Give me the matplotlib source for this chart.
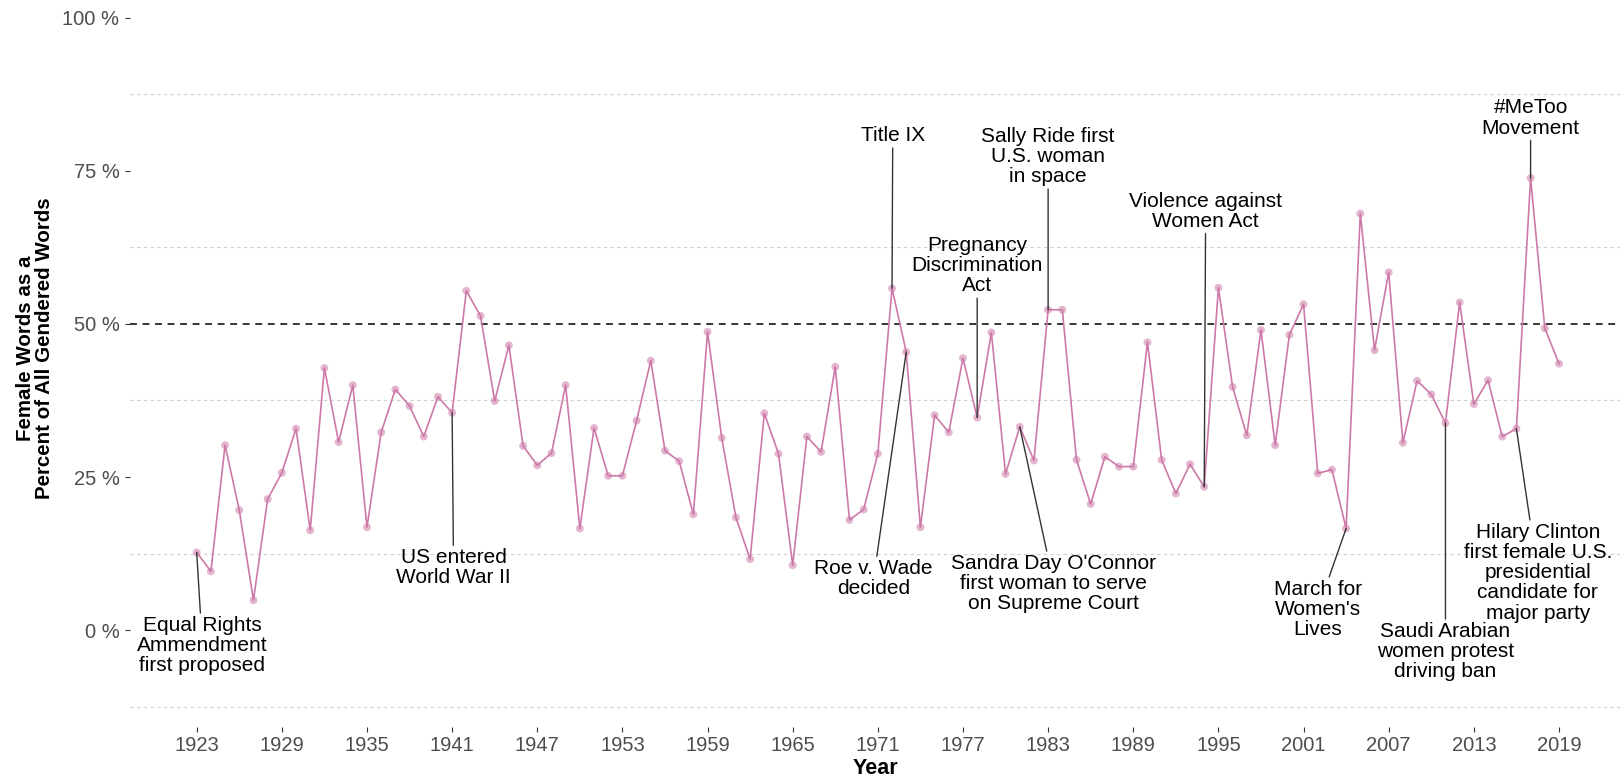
import numpy as np
import matplotlib.pyplot as plt
import matplotlib
matplotlib.rcParams["font.family"] = ["Liberation Sans", "DejaVu Sans"]

years = list(range(1923, 2020))
pct_female = [12.7, 9.6, 30.2, 19.6, 4.9, 21.4, 25.7, 32.9, 16.3, 42.8,
              30.7, 40.0, 16.8, 32.3, 39.3, 36.6, 31.6, 38.1, 35.5, 55.4,
              51.3, 37.4, 46.5, 30.1, 26.9, 28.9, 40.0, 16.6, 33.0, 25.2,
              25.2, 34.2, 44.0, 29.3, 27.6, 18.9, 48.7, 31.4, 18.4, 11.6,
              35.4, 28.8, 10.6, 31.6, 29.1, 43.0, 18.0, 19.7, 28.8, 55.8,
              45.4, 16.8, 35.1, 32.3, 44.4, 34.7, 48.6, 25.5, 33.2, 27.7,
              52.3, 52.3, 27.8, 20.6, 28.3, 26.7, 26.7, 47.0, 27.8, 22.3,
              27.1, 23.4, 55.9, 39.7, 31.8, 49.0, 30.2, 48.2, 53.2, 25.6,
              26.2, 16.6, 68.0, 45.7, 58.4, 30.6, 40.7, 38.5, 33.8, 53.5,
              36.9, 40.8, 31.6, 32.9, 73.8, 49.3, 43.5]

event_years = [1923, 1941, 1972, 1973, 1978, 1981, 1983, 1994, 2004, 2011, 2016, 2017]
event_labels = ["Equal Rights\nAmmendment\nfirst proposed",
                "US entered\nWorld War II",
                "Title IX",
                "Roe v. Wade\ndecided",
                "Pregnancy\nDiscrimination\nAct",
                "Sandra Day O'Connor\nfirst woman to serve\non Supreme Court",
                "Sally Ride first\nU.S. woman\nin space",
                "Violence against\nWomen Act",
                "March for\nWomen's\nLives",
                "Saudi Arabian\nwomen protest\ndriving ban",
                "Hilary Clinton\nfirst female U.S.\npresidential\ncandidate for\nmajor party",
                "#MeToo\nMovement"]
label_x = [1923.4, 1941.1, 1972.05, 1970.7, 1978.0, 1983.4, 1983.0, 1994.1, 2002.0, 2011.0, 2017.5, 2017.0]
label_y = [-2.5, 10.2, 80.7, 8.4, 59.5, 7.6, 77.3, 68.4, 3.4, -3.5, 9.4, 83.6]

col = "#CC79A7"

fig = plt.figure(figsize=(16.23, 7.80), dpi=100)
ax = fig.add_axes([130/1623, 1-727/780, 1490/1623, 715/780])

# light dashed grid between the labelled ticks
for g in [-12.5, 12.5, 37.5, 62.5, 87.5]:
    ax.axhline(g, color="#d0d0d0", lw=0.8, ls=(0, (3, 3)), zorder=0)
ax.axhline(50, color="black", lw=1.1, ls=(0, (4.5, 3.7)), zorder=1)

ax.scatter(years, pct_female, s=32, color=col, alpha=0.55, edgecolors="none", zorder=2)
ax.plot(years, pct_female, color=col, lw=1.2, zorder=3)

for yr, lab, lx, ly in zip(event_years, event_labels, label_x, label_y):
    py = pct_female[years.index(yr)]
    ax.annotate(lab, xy=(yr, py), xytext=(lx, ly), ha="center", va="center",
                multialignment="center", fontsize=15, linespacing=1.08, color="black",
                arrowprops=dict(arrowstyle="-", color="#333333", lw=1.0,
                                shrinkA=0, shrinkB=0), zorder=4)

ax.set_xlim(1918.3, 2023.3)
ax.set_ylim(-15.8, 100.9)
ax.set_xticks(range(1923, 2020, 6))
ax.set_yticks([0, 25, 50, 75, 100])
ax.set_yticklabels(["0 %", "25 %", "50 %", "75 %", "100 %"])
ax.tick_params(axis="both", colors="#333333", labelcolor="#4D4D4D", labelsize=14.5,
               length=3.6, width=0.8)
ax.tick_params(axis="y", pad=4)
ax.tick_params(axis="x", pad=3)
for s in ax.spines.values():
    s.set_visible(False)

fig.text(35/1623, 1-348/780, "Female Words as a\nPercent of All Gendered Words",
         rotation=90, ha="center", va="center", fontsize=14.8, fontweight="bold",
         linespacing=1.0, multialignment="center")
fig.text(875/1623, 1-768/780, "Year", ha="center", va="center", fontsize=15.5,
         fontweight="bold")

fig.savefig("out.png", dpi=100)
